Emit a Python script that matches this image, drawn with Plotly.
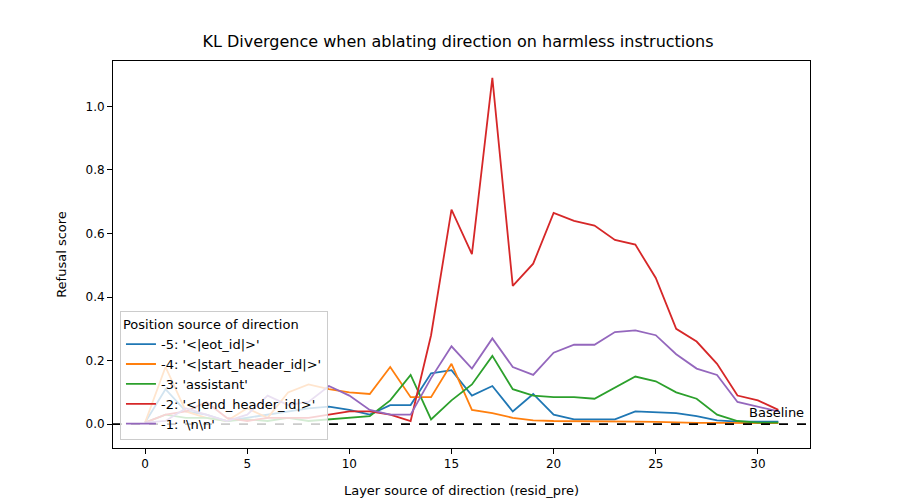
import plotly.graph_objects as go

layers = list(range(32))

pos_m5 = [0.005, 0.11, 0.04, 0.03, 0.01, 0.02, 0.03, 0.04, 0.05, 0.055, 0.045, 0.03, 0.06, 0.06, 0.16, 0.17,
          0.09, 0.12, 0.04, 0.095, 0.03, 0.015, 0.015, 0.015, 0.04, 0.037, 0.035, 0.025, 0.012, 0.008, 0.008, 0.008]
pos_m4 = [0.005, 0.18, 0.04, 0.02, 0.01, 0.05, 0.02, 0.10, 0.125, 0.11, 0.10, 0.095, 0.18, 0.085, 0.085, 0.19,
          0.045, 0.035, 0.02, 0.012, 0.01, 0.01, 0.01, 0.01, 0.008, 0.007, 0.005, 0.004, 0.004, 0.003, 0.003, 0.003]
pos_m3 = [0.005, 0.03, 0.02, 0.02, 0.01, 0.015, 0.01, 0.02, 0.01, 0.015, 0.02, 0.025, 0.075, 0.155, 0.015, 0.075,
          0.125, 0.215, 0.11, 0.09, 0.085, 0.085, 0.08, 0.115, 0.15, 0.135, 0.10, 0.08, 0.03, 0.01, 0.005, 0.005]
pos_m2 = [0.005, 0.03, 0.04, 0.07, 0.02, 0.01, 0.02, 0.02, 0.02, 0.03, 0.04, 0.04, 0.03, 0.01, 0.28, 0.675,
          0.535, 1.09, 0.435, 0.505, 0.665, 0.64, 0.625, 0.58, 0.565, 0.46, 0.30, 0.26, 0.19, 0.09, 0.075, 0.045]
pos_m1 = [0.005, 0.01, 0.05, 0.03, 0.01, 0.03, 0.09, 0.06, 0.07, 0.12, 0.09, 0.045, 0.03, 0.03, 0.145, 0.245,
          0.175, 0.27, 0.18, 0.155, 0.225, 0.25, 0.25, 0.29, 0.295, 0.28, 0.22, 0.175, 0.155, 0.07, 0.055, 0.04]

series = [
    ("-5: '<|eot_id|>'", pos_m5, "#1f77b4"),
    ("-4: '<|start_header_id|>'", pos_m4, "#ff7f0e"),
    ("-3: 'assistant'", pos_m3, "#2ca02c"),
    ("-2: '<|end_header_id|>'", pos_m2, "#d62728"),
    ("-1: '\\n\\n'", pos_m1, "#9467bd"),
]

fig = go.Figure()
for name, vals, color in series:
    fig.add_trace(go.Scatter(x=layers, y=vals, mode="lines", name=name,
                             line=dict(color=color, width=1.8)))

# baseline
fig.add_hline(y=0, line=dict(color="black", dash="dash", width=1.6))
fig.add_annotation(x=30.9, y=0.0, text="Baseline", showarrow=False,
                   xanchor="center", yanchor="bottom", yshift=2,
                   font=dict(size=13, color="black"))

axis_common = dict(showgrid=False, zeroline=False, showline=True, linecolor="black",
                   mirror=True, ticks="outside", tickcolor="black",
                   tickfont=dict(size=12, color="black"))

fig.update_layout(
    width=900, height=500,
    paper_bgcolor="white", plot_bgcolor="white",
    font=dict(family="DejaVu Sans", color="black"),
    title=dict(text="KL Divergence when ablating direction on harmless instructions",
               x=0.5, xanchor="center", y=0.945, font=dict(size=16)),
    margin=dict(l=105, r=98, t=53, b=44),
    xaxis=dict(title=dict(text="Layer source of direction (resid_pre)", font=dict(size=13)),
               range=[-1.57, 32.55], tickvals=[0, 5, 10, 15, 20, 25, 30], **axis_common),
    yaxis=dict(title=dict(text="Refusal score", font=dict(size=13)),
               range=[-0.075, 1.143], tickvals=[0, 0.2, 0.4, 0.6, 0.8, 1.0],
               tickformat=".1f", **axis_common),
    legend=dict(title=dict(text="Position source of direction", side="top", font=dict(size=13)),
                x=0.01, y=0.02, xanchor="left", yanchor="bottom",
                bgcolor="rgba(255,255,255,0.8)", bordercolor="#cccccc", borderwidth=1,
                font=dict(size=13)),
)

fig.write_html("out.html")
